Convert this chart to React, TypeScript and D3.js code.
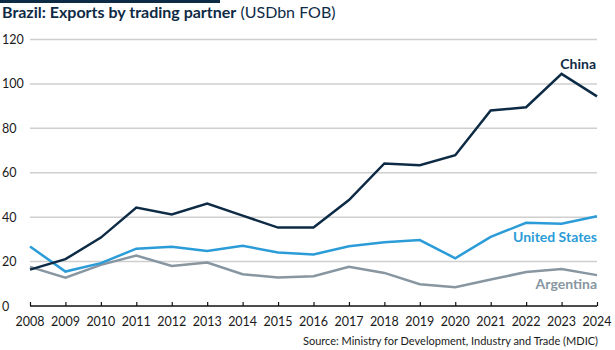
import { useEffect, useRef } from "react";
import * as d3 from "d3";

const years = [
  2008, 2009, 2010, 2011, 2012, 2013, 2014, 2015, 2016, 2017, 2018, 2019, 2020,
  2021, 2022, 2023, 2024,
];
const china = [
  16.4, 21.1, 30.8, 44.3, 41.2, 46.1, 40.7, 35.3, 35.3, 47.7, 64.2, 63.4, 67.9,
  88.0, 89.5, 104.5, 94.4,
];
const unitedStates = [
  26.8, 15.5, 19.3, 25.8, 26.7, 24.8, 27.1, 24.1, 23.2, 26.9, 28.7, 29.7, 21.5,
  31.1, 37.5, 37.0, 40.4,
];
const argentina = [
  17.6, 12.8, 18.5, 22.7, 18.0, 19.6, 14.3, 12.8, 13.4, 17.7, 14.9, 9.8, 8.5,
  11.9, 15.3, 16.7, 13.9,
];
const yTicks = [0, 20, 40, 60, 80, 100, 120];

const series = [
  { name: "China", values: china, color: "#0e2b45", lx: 596, ly: 69 },
  { name: "United States", values: unitedStates, color: "#2b9cd8", lx: 597, ly: 242 },
  { name: "Argentina", values: argentina, color: "#8796a1", lx: 597, ly: 289 },
];

const FONT = "Lato, 'Open Sans', sans-serif";

export default function App() {
  const ref = useRef<SVGSVGElement | null>(null);

  useEffect(() => {
    if (!ref.current) return;
    const svg = d3.select(ref.current);
    svg.selectAll("*").remove();

    const x = d3.scaleLinear().domain([2008, 2024]).range([30, 597]);
    const y = d3.scaleLinear().domain([0, 120]).range([306, 39.5]);

    // top accent bar + title
    svg.append("rect").attr("x", 0).attr("y", 0).attr("width", 220).attr("height", 3).attr("fill", "#0e2b45");
    const title = svg
      .append("text")
      .attr("x", 2)
      .attr("y", 18)
      .attr("font-family", FONT)
      .attr("font-size", 16)
      .attr("fill", "#0e2b45");
    title.append("tspan").attr("font-weight", 700).text("Brazil: Exports by trading partner");
    title.append("tspan").attr("font-weight", 400).text(" (USDbn FOB)");

    // grid
    svg
      .append("g")
      .selectAll("line")
      .data(yTicks.filter((t) => t > 0))
      .enter()
      .append("line")
      .attr("x1", 30)
      .attr("x2", 597)
      .attr("y1", (d) => y(d))
      .attr("y2", (d) => y(d))
      .attr("stroke", "#cfcfcf")
      .attr("stroke-width", 1.5);

    // y labels
    svg
      .append("g")
      .selectAll("text")
      .data(yTicks)
      .enter()
      .append("text")
      .attr("x", 2)
      .attr("y", (d) => y(d) + 4.5)
      .attr("font-family", FONT)
      .attr("font-size", 12.5)
      .attr("fill", "#1a1a1a")
      .text((d) => d);

    // lines
    const line = d3
      .line<number>()
      .x((_, i) => x(years[i]))
      .y((d) => y(d));

    series
      .slice()
      .reverse()
      .forEach((s) => {
        svg
          .append("path")
          .attr("d", line(s.values) as string)
          .attr("fill", "none")
          .attr("stroke", s.color)
          .attr("stroke-width", 2.5)
          .attr("stroke-linejoin", "miter");
      });

    // x axis
    svg
      .append("g")
      .attr("transform", `translate(0,${y(0)})`)
      .call(d3.axisTop(x).tickValues(years).tickSize(4).tickFormat(() => ""))
      .call((g) => g.select(".domain").attr("d", `M${x(2008)},0H${x(2024)}`).attr("stroke", "#111").attr("stroke-width", 1.5))
      .call((g) => g.selectAll(".tick line").attr("stroke", "#111").attr("stroke-width", 1.2));
    svg
      .append("g")
      .selectAll("text")
      .data(years)
      .enter()
      .append("text")
      .attr("x", (d) => x(d))
      .attr("y", 326)
      .attr("text-anchor", "middle")
      .attr("font-family", FONT)
      .attr("font-size", 12.5)
      .attr("fill", "#1a1a1a")
      .text((d) => d);

    // series labels
    series.forEach((s) => {
      svg
        .append("text")
        .attr("x", s.lx)
        .attr("y", s.ly)
        .attr("text-anchor", "end")
        .attr("font-family", FONT)
        .attr("font-weight", 700)
        .attr("font-size", 14)
        .attr("fill", s.color)
        .text(s.name);
    });

    // source
    svg
      .append("text")
      .attr("x", 598)
      .attr("y", 345)
      .attr("text-anchor", "end")
      .attr("font-family", FONT)
      .attr("font-size", 11)
      .attr("fill", "#1a1a1a")
      .text("Source: Ministry for Development, Industry and Trade (MDIC)");
  }, []);

  return (
    <svg
      ref={ref}
      width={615}
      height={350}
      style={{ position: "absolute", left: 0, top: 0, background: "#fff" }}
    />
  );
}
